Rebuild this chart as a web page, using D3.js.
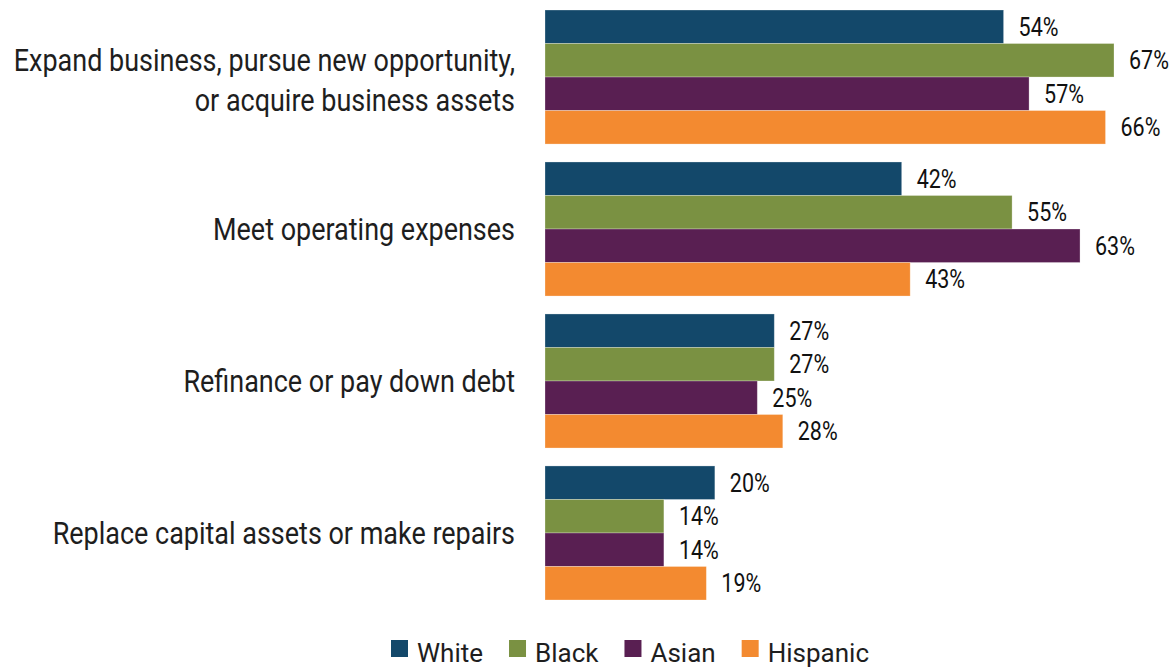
<!DOCTYPE html>
<html>
<head>
<meta charset="utf-8">
<script src="https://cdn.jsdelivr.net/npm/d3@7"></script>
<style>
  html, body { margin: 0; padding: 0; background: #ffffff; }
  svg { display: block; }
  text { font-family: Roboto, "Noto Sans", sans-serif; fill: #1e1e1e; }
</style>
</head>
<body>
<svg id="chart" width="1173" height="668"></svg>
<script>
// Reasons for seeking financing, by owner race/ethnicity (% of applicants)
const categories = [
  "Expand business, pursue new opportunity,\nor acquire business assets",
  "Meet operating expenses",
  "Refinance or pay down debt",
  "Replace capital assets or make repairs"
];
const seriesNames = ["White", "Black", "Asian", "Hispanic"];
const seriesColors = ["#13486a", "#7a9142", "#591f52", "#f38a30"];
const white    = [54, 42, 27, 20];
const black    = [67, 55, 27, 14];
const asian    = [57, 63, 25, 14];
const hispanic = [66, 43, 28, 19];
const seriesValues = [white, black, asian, hispanic];

const svg = d3.select("#chart");
const condenseLabel = 0.87;  // narrow the face to a condensed look
const condenseValue = 0.86;

const x = d3.scaleLinear().domain([0, 67]).range([545, 1114]);
const y0 = d3.scaleBand().domain(categories).range([10, 600]).paddingInner(0.118).paddingOuter(0);
const y1 = d3.scaleBand().domain(seriesNames).range([0, y0.bandwidth()]).padding(0);
const color = d3.scaleOrdinal().domain(seriesNames).range(seriesColors);

const rows = categories.map((c, i) => ({
  category: c,
  values: seriesNames.map((s, j) => ({ series: s, value: seriesValues[j][i] }))
}));

const group = svg.selectAll("g.group")
  .data(rows)
  .join("g")
  .attr("class", "group")
  .attr("transform", d => `translate(0,${y0(d.category)})`);

group.selectAll("rect")
  .data(d => d.values)
  .join("rect")
  .attr("x", x(0))
  .attr("y", d => y1(d.series))
  .attr("width", d => x(d.value) - x(0))
  .attr("height", y1.bandwidth())
  .attr("fill", d => color(d.series))
  .attr("stroke", "#ffffff")
  .attr("stroke-opacity", 0.35)
  .attr("stroke-width", 0.8);

// value labels at the end of each bar
group.selectAll("g.value")
  .data(d => d.values)
  .join("g")
  .attr("class", "value")
  .attr("transform", d => `translate(${x(d.value) + 15},${y1(d.series) + y1.bandwidth() / 2 + 9}) scale(${condenseValue},1)`)
  .append("text")
  .attr("font-size", 25)
  .style("fill", "#111111")
  .text(d => d.value + "%");

// category labels, right-aligned beside the bars
const lineGap = 40;
group.each(function(d) {
  const lines = d.category.split("\n");
  const g = d3.select(this);
  const mid = y0.bandwidth() / 2;
  lines.forEach((ln, i) => {
    const by = mid + 11 + (i - (lines.length - 1) / 2) * lineGap + (lines.length > 1 ? 3 : 0);
    g.append("g")
      .attr("transform", `translate(515,${by}) scale(${condenseLabel},1)`)
      .append("text")
      .attr("text-anchor", "end")
      .attr("font-size", 31)
      .text(ln);
  });
});

// legend
const legend = svg.append("g").attr("transform", "translate(391,640)");
let lx = 0;
seriesNames.forEach(name => {
  const item = legend.append("g").attr("transform", `translate(${lx},0)`);
  item.append("rect").attr("width", 17).attr("height", 17).attr("fill", color(name));
  const t = item.append("text")
    .attr("x", 26)
    .attr("y", 22)
    .attr("font-size", 26)
    .text(name);
  lx += 26 + t.node().getComputedTextLength() + 26;
});
</script>
</body>
</html>
